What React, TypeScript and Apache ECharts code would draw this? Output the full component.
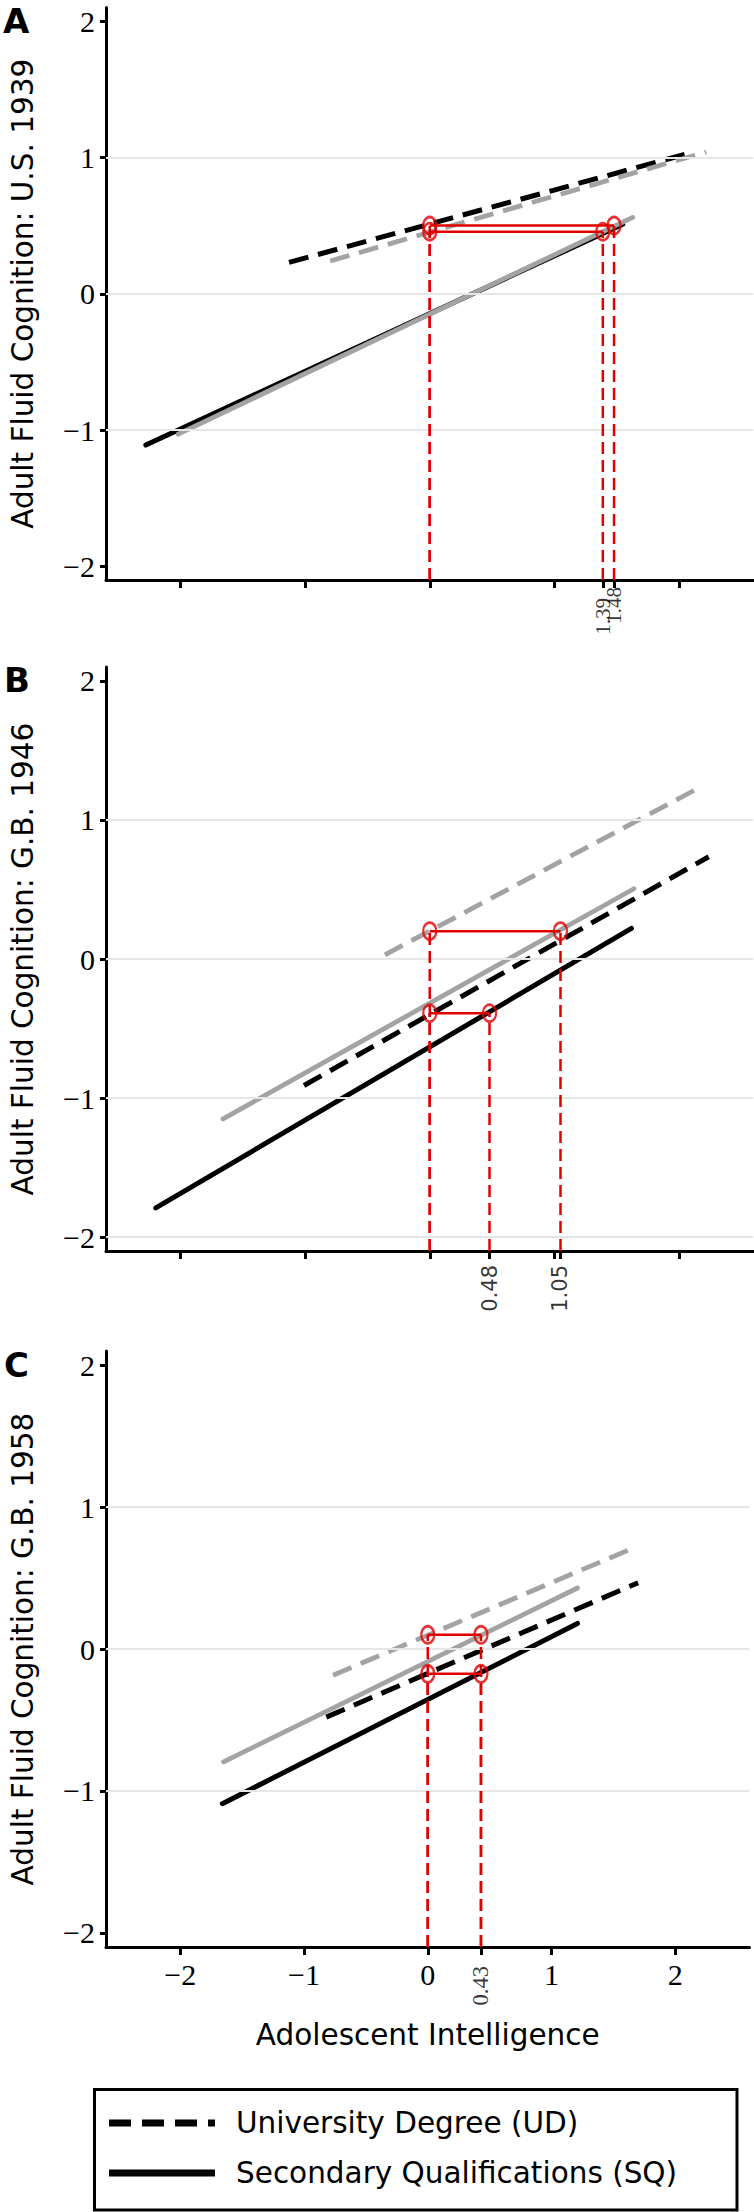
import React, { useEffect, useRef } from "react";
import * as echarts from "echarts";

// ---------- axes ----------
const X_MIN = -2.6;
const X_MAX = 2.6;
const Y_MIN = -2.1;
const Y_MAX = 2.1;
const xTickValues = [-2, -1, 0, 1, 2];
const yTickValues = [-2, -1, 0, 1, 2];
const UD_REF_X = 0; // adolescent intelligence of the UD reference point

// ---------- texts ----------
const panelLetters = ["A", "B", "C"];
const yAxisTitles = [
  "Adult Fluid Cognition: U.S. 1939",
  "Adult Fluid Cognition: G.B. 1946",
  "Adult Fluid Cognition: G.B. 1958",
];
const xAxisTitle = "Adolescent Intelligence";
const legendLabels = ["University Degree (UD)", "Secondary Qualifications (SQ)"];

// ---------- Panel A: U.S. 1939 ----------
const aUdBlack = [[-1.13, 0.23], [2.12, 1.04]];
const aUdGrey = [[-0.8, 0.24], [2.22, 1.04]];
const aSqBlack = [[-2.28, -1.11], [1.55, 0.51]];
const aSqGrey = [[-2.02, -1.03], [1.63, 0.56]];
const aMatchLevels = [0.5, 0.455];
const aMatchX = [1.48, 1.39];
const aGridLines = [-1, 0, 1];

// ---------- Panel B: G.B. 1946 ----------
const bUdBlack = [[-1.01, -0.91], [2.24, 0.735]];
const bUdGrey = [[-0.36, 0.03], [2.16, 1.23]];
const bSqBlack = [[-2.2, -1.79], [1.62, 0.22]];
const bSqGrey = [[-1.66, -1.15], [1.64, 0.505]];
const bMatchLevels = [0.2, -0.39];
const bMatchX = [1.05, 0.48];
const bGridLines = [-2, -1, 0, 1];

// ---------- Panel C: G.B. 1958 ----------
const cUdBlack = [[-0.82, -0.48], [1.7, 0.467]];
const cUdGrey = [[-0.765, -0.185], [1.63, 0.7]];
const cSqBlack = [[-1.66, -1.09], [1.21, 0.18]];
const cSqGrey = [[-1.65, -0.795], [1.21, 0.43]];
const cMatchLevels = [0.1, -0.175];
const cMatchX = [0.43, 0.43];
const cGridLines = [-1, 0, 1];

const panelData = [
  { udBlack: aUdBlack, udGrey: aUdGrey, sqBlack: aSqBlack, sqGrey: aSqGrey, levels: aMatchLevels, matchX: aMatchX, gridLines: aGridLines },
  { udBlack: bUdBlack, udGrey: bUdGrey, sqBlack: bSqBlack, sqGrey: bSqGrey, levels: bMatchLevels, matchX: bMatchX, gridLines: bGridLines },
  { udBlack: cUdBlack, udGrey: cUdGrey, sqBlack: cSqBlack, sqGrey: cSqGrey, levels: cMatchLevels, matchX: cMatchX, gridLines: cGridLines },
];

// ---------- layout / style ----------
const gridBoxes = [
  { left: 99.5, top: 7.5, width: 654, height: 572.5 },
  { left: 99.5, top: 667, width: 654, height: 584 },
  { left: 95.5, top: 1351, width: 654, height: 596 },
];
const specialLabelStyle = [
  { fontFamily: "Liberation Serif", fontSize: 21, distance: 12, offsets: { "1.48": 5, "1.39": -6 } as Record<string, number> },
  { fontFamily: "DejaVu Sans", fontSize: 21, distance: 14, offsets: {} as Record<string, number> },
  { fontFamily: "Liberation Serif", fontSize: 22.5, distance: 19, offsets: {} as Record<string, number> },
];
const letterPos = [
  { x: 3, y: 4 },
  { x: 4, y: 663 },
  { x: 4, y: 1348 },
];

const RED = "#e00000";
const GREY = "#a3a3a3";
const BLACK = "#000000";
const GRIDLINE = "#e6e6e6";
const SANS = "DejaVu Sans";
const SERIF = "Liberation Serif";

const fmtTick = (v: number) => {
  if (Math.abs(v - Math.round(v)) > 1e-6) return "";
  return v < 0 ? "\u2212" + Math.abs(v) : String(v);
};

function buildOption() {
  const grid: any[] = [];
  const xAxis: any[] = [];
  const yAxis: any[] = [];
  const series: any[] = [];
  const graphic: any[] = [];

  panelData.forEach((p, i) => {
    const box = gridBoxes[i];
    grid.push({ ...box, containLabel: false });
    const uniqMatch = Array.from(new Set(p.matchX));
    xAxis.push({
      gridIndex: i,
      type: "value",
      min: X_MIN,
      max: X_MAX,
      name: i === 2 ? xAxisTitle : "",
      nameLocation: "middle",
      nameGap: 73,
      nameTextStyle: { fontFamily: SANS, fontSize: 29.5, color: BLACK },
      axisLine: { onZero: false, lineStyle: { color: BLACK, width: 3 } },
      axisTick: {
        show: true,
        length: 8,
        lineStyle: { color: BLACK, width: 3 },
        customValues: [...xTickValues, ...uniqMatch],
      },
      axisLabel: {
        show: i === 2,
        customValues: xTickValues,
        formatter: fmtTick,
        fontFamily: SERIF,
        fontSize: 30,
        color: BLACK,
        margin: 12,
      },
      splitLine: { show: false },
    });
    yAxis.push({
      gridIndex: i,
      type: "value",
      min: Y_MIN,
      max: Y_MAX,
      name: yAxisTitles[i],
      nameLocation: "middle",
      nameGap: 68,
      nameTextStyle: { fontFamily: SANS, fontSize: 29.5, color: BLACK },
      axisLine: { onZero: false, lineStyle: { color: BLACK, width: 3 } },
      axisTick: {
        show: true,
        length: 6,
        lineStyle: { color: BLACK, width: 3 },
        customValues: yTickValues,
      },
      axisLabel: {
        customValues: yTickValues,
        formatter: fmtTick,
        fontFamily: SERIF,
        fontSize: 30,
        color: BLACK,
        margin: 11,
      },
      splitLine: { show: false },
    });

    const base = { xAxisIndex: i, yAxisIndex: i };

    // light horizontal grid lines
    series.push({
      ...base,
      type: "line",
      data: [],
      z: 1,
      markLine: {
        silent: true,
        symbol: "none",
        label: { show: false },
        lineStyle: { color: GRIDLINE, width: 2, type: "solid" },
        data: p.gridLines.map((v) => ({ yAxis: v })),
      },
    });

    const lineSeries = (data: number[][], color: string, dashed: boolean, z: number, width: number) => ({
      ...base,
      type: "line",
      data,
      symbol: "none",
      z,
      lineStyle: {
        color,
        width,
        type: dashed ? [20, 10] : "solid",
        cap: dashed ? "butt" : "round",
      },
    });
    series.push(lineSeries(p.sqBlack, BLACK, false, 2, 5));
    series.push(lineSeries(p.udBlack, BLACK, true, 2, 5));
    series.push(lineSeries(p.sqGrey, GREY, false, 3, 4.8));
    series.push(lineSeries(p.udGrey, GREY, true, 3, 4.8));

    // red matching construction
    p.levels.forEach((lvl, k) => {
      const mx = p.matchX[k];
      series.push({
        ...base,
        type: "line",
        data: [[UD_REF_X, lvl], [mx, lvl]],
        symbol: "none",
        z: 5,
        lineStyle: { color: RED, width: 2.5, type: "solid" },
      });
      [UD_REF_X, mx].forEach((vx) => {
        series.push({
          ...base,
          type: "line",
          data: [[vx, Y_MIN], [vx, lvl]],
          symbol: "none",
          z: 5,
          lineStyle: { color: RED, width: 2.5, type: [12, 6] },
        });
      });
    });
    series.push({
      ...base,
      type: "scatter",
      z: 6,
      symbol: "circle",
      symbolSize: [13, 17],
      itemStyle: { color: "rgba(0,0,0,0)", borderColor: RED, borderWidth: 2.5 },
      data: p.levels.flatMap((lvl, k) => [[UD_REF_X, lvl], [p.matchX[k], lvl]]),
    });

    // rotated value labels under the axis
    const ls = specialLabelStyle[i];
    series.push({
      ...base,
      type: "scatter",
      z: 6,
      clip: false,
      symbolSize: 0,
      itemStyle: { color: "rgba(0,0,0,0)" },
      data: uniqMatch.map((mx) => ({
        value: [mx, Y_MIN],
        label: { offset: [ls.offsets[mx.toFixed(2)] || 0, 0] },
      })),
      label: {
        show: true,
        position: "bottom",
        distance: ls.distance,
        rotate: 90,
        align: "right",
        verticalAlign: "middle",
        fontFamily: ls.fontFamily,
        fontSize: ls.fontSize,
        color: BLACK,
        formatter: (prm: any) => Number(prm.value[0]).toFixed(2),
      },
    });

    graphic.push({
      type: "text",
      x: letterPos[i].x,
      y: letterPos[i].y,
      style: {
        text: panelLetters[i],
        fontFamily: SANS,
        fontWeight: "bold",
        fontSize: 34,
        fill: BLACK,
        align: "left",
        verticalAlign: "top",
      },
    });
  });

  // legend box
  graphic.push(
    {
      type: "rect",
      shape: { x: 94.5, y: 2089.5, width: 642.5, height: 120.5 },
      style: { fill: "none", stroke: BLACK, lineWidth: 3 },
    },
    {
      type: "line",
      shape: { x1: 109, y1: 2123, x2: 215, y2: 2123 },
      style: { stroke: BLACK, lineWidth: 7, lineDash: [22, 11] },
    },
    {
      type: "line",
      shape: { x1: 109, y1: 2173, x2: 215, y2: 2173 },
      style: { stroke: BLACK, lineWidth: 7 },
    },
    {
      type: "text",
      x: 236,
      y: 2123,
      style: { text: legendLabels[0], fontFamily: SANS, fontSize: 29.5, fill: BLACK, align: "left", verticalAlign: "middle" },
    },
    {
      type: "text",
      x: 236,
      y: 2173,
      style: { text: legendLabels[1], fontFamily: SANS, fontSize: 29.5, fill: BLACK, align: "left", verticalAlign: "middle" },
    }
  );

  return {
    animation: false,
    backgroundColor: "#ffffff",
    grid,
    xAxis,
    yAxis,
    series,
    graphic,
  };
}

export default function App() {
  const ref = useRef<HTMLDivElement>(null);
  useEffect(() => {
    document.body.style.margin = "0";
    if (!ref.current) return;
    const chart = echarts.init(ref.current, undefined, { renderer: "svg" });
    chart.setOption(buildOption() as any);
    return () => chart.dispose();
  }, []);
  return <div ref={ref} style={{ width: 754, height: 2212 }} />;
}
